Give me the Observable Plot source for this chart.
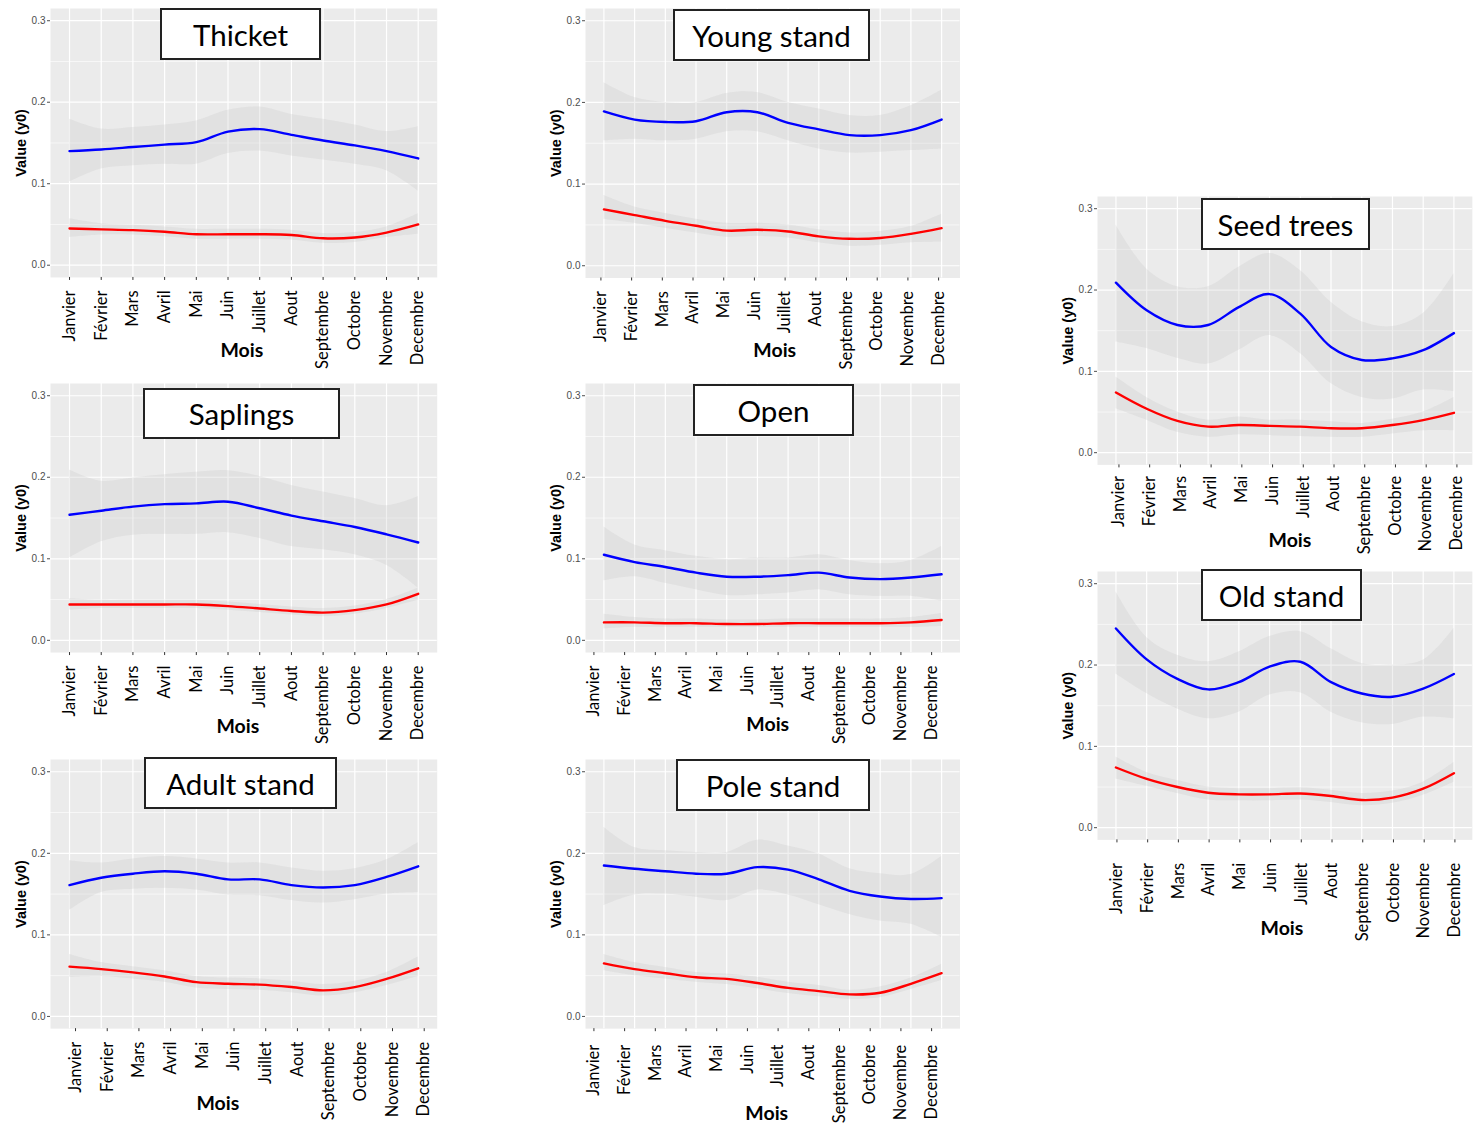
<!DOCTYPE html>
<html>
<head>
<meta charset="utf-8">
<script src="https://cdn.jsdelivr.net/npm/d3@7"></script>
<script src="https://cdn.jsdelivr.net/npm/@observablehq/plot@0.6"></script>
<style>
  html, body { margin: 0; padding: 0; background: #fff; }
  #page { position: relative; width: 1476px; height: 1129px; overflow: hidden; background: #fff; }
  .panel { position: absolute; }
  .title { position: absolute; box-sizing: border-box; border: 2px solid #222; background: #fff;
           display: flex; align-items: center; justify-content: center;
           font-family: Lato, "Open Sans", sans-serif; font-size: 29.5px; color: #000; }
</style>
</head>
<body>
<div id="page"></div>
<script>
// ---------- data ----------
const months = ["Janvier","Février","Mars","Avril","Mai","Juin","Juillet","Aout","Septembre","Octobre","Novembre","Decembre"];
const yTicks = [0, 0.1, 0.2, 0.3];
const yMinor = [0.05, 0.15, 0.25];

const thicketBlue   = [0.140,0.142,0.145,0.148,0.151,0.164,0.167,0.160,0.153,0.147,0.140,0.131];
const thicketBlueLo = [0.102,0.118,0.122,0.124,0.124,0.137,0.140,0.134,0.129,0.124,0.116,0.091];
const thicketBlueHi = [0.179,0.167,0.169,0.172,0.177,0.190,0.194,0.185,0.179,0.172,0.164,0.170];
const thicketRed    = [0.045,0.044,0.043,0.041,0.038,0.038,0.038,0.037,0.033,0.034,0.040,0.050];
const thicketRedLo  = [0.034,0.037,0.037,0.035,0.032,0.032,0.032,0.031,0.027,0.028,0.034,0.038];
const thicketRedHi  = [0.057,0.051,0.049,0.047,0.044,0.044,0.044,0.043,0.039,0.040,0.047,0.063];

const youngBlue   = [0.189,0.179,0.176,0.177,0.188,0.188,0.175,0.167,0.160,0.160,0.166,0.179];
const youngBlueLo = [0.153,0.155,0.153,0.155,0.164,0.164,0.153,0.143,0.138,0.139,0.141,0.143];
const youngBlueHi = [0.224,0.206,0.200,0.200,0.211,0.212,0.200,0.192,0.184,0.184,0.196,0.215];
const youngRed    = [0.069,0.062,0.055,0.049,0.043,0.044,0.042,0.036,0.033,0.034,0.039,0.046];
const youngRedLo  = [0.057,0.052,0.046,0.040,0.035,0.036,0.034,0.028,0.024,0.025,0.028,0.029];
const youngRedHi  = [0.086,0.072,0.064,0.057,0.052,0.052,0.050,0.044,0.040,0.042,0.048,0.063];

const seedBlue   = [0.209,0.175,0.157,0.157,0.179,0.195,0.171,0.130,0.114,0.116,0.126,0.147];
const seedBlueLo = [0.136,0.128,0.116,0.109,0.126,0.144,0.122,0.085,0.068,0.066,0.077,0.075];
const seedBlueHi = [0.280,0.226,0.204,0.204,0.228,0.245,0.224,0.185,0.161,0.155,0.171,0.220];
const seedRed    = [0.074,0.054,0.039,0.032,0.034,0.033,0.032,0.030,0.030,0.034,0.040,0.049];
const seedRedLo  = [0.054,0.040,0.025,0.019,0.022,0.021,0.020,0.019,0.019,0.023,0.027,0.027];
const seedRedHi  = [0.093,0.068,0.050,0.040,0.044,0.040,0.040,0.038,0.036,0.041,0.050,0.068];

const oldBlue   = [0.245,0.207,0.183,0.170,0.179,0.198,0.204,0.179,0.165,0.161,0.171,0.189];
const oldBlueLo = [0.189,0.165,0.146,0.134,0.142,0.163,0.166,0.142,0.129,0.127,0.136,0.134];
const oldBlueHi = [0.290,0.234,0.212,0.204,0.216,0.235,0.241,0.220,0.202,0.200,0.206,0.245];
const oldRed    = [0.074,0.060,0.050,0.043,0.041,0.041,0.042,0.039,0.034,0.037,0.048,0.067];
const oldRedLo  = [0.060,0.051,0.042,0.034,0.033,0.033,0.034,0.031,0.027,0.030,0.040,0.056];
const oldRedHi  = [0.087,0.068,0.058,0.050,0.048,0.048,0.049,0.046,0.042,0.045,0.056,0.080];

const saplingsBlue   = [0.154,0.159,0.164,0.167,0.168,0.170,0.162,0.153,0.146,0.139,0.130,0.120];
const saplingsBlueLo = [0.101,0.121,0.129,0.130,0.130,0.132,0.125,0.115,0.111,0.105,0.092,0.064];
const saplingsBlueHi = [0.209,0.195,0.199,0.203,0.206,0.208,0.201,0.190,0.182,0.174,0.165,0.176];
const saplingsRed    = [0.044,0.044,0.044,0.044,0.044,0.042,0.039,0.036,0.034,0.037,0.044,0.057];
const saplingsRedLo  = [0.037,0.039,0.039,0.039,0.039,0.037,0.034,0.031,0.029,0.032,0.039,0.049];
const saplingsRedHi  = [0.051,0.049,0.049,0.049,0.049,0.047,0.044,0.041,0.039,0.042,0.050,0.064];

const openBlue   = [0.105,0.096,0.090,0.083,0.078,0.078,0.080,0.083,0.077,0.075,0.077,0.081];
const openBlueLo = [0.073,0.078,0.070,0.062,0.055,0.056,0.058,0.062,0.056,0.054,0.054,0.048];
const openBlueHi = [0.139,0.117,0.110,0.103,0.099,0.101,0.101,0.105,0.098,0.094,0.098,0.115];
const openRed    = [0.022,0.022,0.021,0.021,0.020,0.020,0.021,0.021,0.021,0.021,0.022,0.025];
const openRedLo  = [0.014,0.016,0.016,0.016,0.016,0.016,0.016,0.016,0.016,0.016,0.016,0.017];
const openRedHi  = [0.032,0.028,0.026,0.026,0.025,0.025,0.026,0.026,0.026,0.026,0.028,0.033];

const adultBlue   = [0.161,0.170,0.175,0.178,0.175,0.168,0.168,0.161,0.158,0.161,0.171,0.184];
const adultBlueLo = [0.130,0.152,0.156,0.157,0.155,0.149,0.148,0.142,0.139,0.143,0.150,0.152];
const adultBlueHi = [0.191,0.188,0.193,0.196,0.193,0.188,0.188,0.182,0.178,0.181,0.192,0.213];
const adultRed    = [0.061,0.058,0.054,0.049,0.042,0.040,0.039,0.036,0.032,0.036,0.046,0.059];
const adultRedLo  = [0.048,0.049,0.046,0.042,0.035,0.033,0.032,0.029,0.025,0.029,0.038,0.049];
const adultRedHi  = [0.076,0.066,0.061,0.056,0.049,0.047,0.046,0.043,0.039,0.043,0.054,0.073];

const poleBlue   = [0.185,0.181,0.178,0.175,0.175,0.183,0.180,0.168,0.154,0.147,0.144,0.145];
const poleBlueLo = [0.136,0.149,0.150,0.146,0.142,0.155,0.149,0.137,0.125,0.117,0.113,0.097];
const poleBlueHi = [0.232,0.207,0.203,0.201,0.201,0.216,0.209,0.199,0.181,0.175,0.174,0.196];
const poleRed    = [0.065,0.058,0.053,0.048,0.046,0.041,0.035,0.031,0.027,0.029,0.040,0.053];
const poleRedLo  = [0.056,0.050,0.046,0.042,0.039,0.034,0.028,0.024,0.021,0.023,0.033,0.044];
const poleRedHi  = [0.076,0.066,0.060,0.054,0.052,0.048,0.042,0.038,0.032,0.036,0.047,0.064];

// ---------- layout (page pixel anchors) ----------
const panels = [
  {name:"Thicket",     blue:[thicketBlue,thicketBlueLo,thicketBlueHi],   red:[thicketRed,thicketRedLo,thicketRedHi],
   xJan:69,   xDec:417.7, y3:20,    y0:264.5,  pad:10, ldx:0,   moisDx:-2,  moisDy:73, box:[160,8,161,52]},
  {name:"Young stand", blue:[youngBlue,youngBlueLo,youngBlueHi],         red:[youngRed,youngRedLo,youngRedHi],
   xJan:603.3,xDec:941,   y3:20,    y0:265,    pad:10, ldx:-3,  moisDx:2,   moisDy:73, box:[673,9,197,52]},
  {name:"Seed trees",  blue:[seedBlue,seedBlueLo,seedBlueHi],            red:[seedRed,seedRedLo,seedRedHi],
   xJan:1115, xDec:1453,  y3:208.3, y0:452.3,  pad:8,  ldx:3,   moisDx:5,   moisDy:76, box:[1201,198,169,52]},
  {name:"Old stand",   blue:[oldBlue,oldBlueLo,oldBlueHi],               red:[oldRed,oldRedLo,oldRedHi],
   xJan:1115, xDec:1453,  y3:583.3, y0:827.3,  pad:20, ldx:1,   moisDx:-3,  moisDy:89, box:[1201,569,161,52]},
  {name:"Saplings",    blue:[saplingsBlue,saplingsBlueLo,saplingsBlueHi],red:[saplingsRed,saplingsRedLo,saplingsRedHi],
   xJan:69,   xDec:417.7, y3:395.7, y0:640.3,  pad:10, ldx:0,   moisDx:-6,  moisDy:74, box:[143,388,197,51]},
  {name:"Open",        blue:[openBlue,openBlueLo,openBlueHi],            red:[openRed,openRedLo,openRedHi],
   xJan:603.3,xDec:941,   y3:395.7, y0:640.3,  pad:10, ldx:-10, moisDx:-5,  moisDy:72, box:[693,384,161,52]},
  {name:"Adult stand", blue:[adultBlue,adultBlueLo,adultBlueHi],         red:[adultRed,adultRedLo,adultRedHi],
   xJan:69,   xDec:417.7, y3:771,   y0:1015.7, pad:10, ldx:6,   moisDx:-26, moisDy:75, box:[144,757,193,52]},
  {name:"Pole stand",  blue:[poleBlue,poleBlueLo,poleBlueHi],            red:[poleRed,poleRedLo,poleRedHi],
   xJan:603.3,xDec:941,   y3:771,   y0:1015.7, pad:13, ldx:-10, moisDx:-6,  moisDy:85, box:[676,759,194,52]}
];

const page = document.getElementById("page");
const monthIdx = months.map((m, i) => i + 1);
const yDomain = [-0.015, 0.315];
const xDomain = [0.4, 12.6];

function table(arrs) {
  const [m, lo, hi] = arrs;
  return months.map((name, i) => ({x: i + 1, y: m[i], lo: lo[i], hi: hi[i]}));
}

for (const p of panels) {
  const step = (p.xDec - p.xJan) / 11;
  const left = p.xJan - 0.6 * step, right = p.xDec + 0.6 * step;
  const k = (p.y0 - p.y3) / 0.3;
  const top = p.y3 - 0.015 * k, bottom = p.y0 + 0.015 * k;
  const mL = 50, mT = 5, mR = 4, mB = 125;
  const W = mL + (right - left) + mR;
  const H = mT + (bottom - top) + mB;
  const blue = table(p.blue), red = table(p.red);

  const chart = Plot.plot({
    width: W, height: H,
    marginLeft: mL, marginRight: mR, marginTop: mT, marginBottom: mB,
    style: {background: "transparent", overflow: "visible", fontFamily: "Lato"},
    x: {domain: xDomain, axis: null},
    y: {domain: yDomain, axis: null},
    marks: [
      Plot.frame({fill: "#EBEBEB", stroke: null}),
      Plot.ruleY(yMinor, {stroke: "#ffffff", strokeWidth: 0.6}),
      Plot.ruleY(yTicks, {stroke: "#ffffff", strokeWidth: 1.2}),
      Plot.ruleX(monthIdx, {stroke: "#ffffff", strokeWidth: 1.2}),
      Plot.areaY(blue, {x: "x", y1: "lo", y2: "hi", fill: "#c4c4c4", fillOpacity: 0.25, curve: "catmull-rom"}),
      Plot.areaY(red,  {x: "x", y1: "lo", y2: "hi", fill: "#c4c4c4", fillOpacity: 0.25, curve: "catmull-rom"}),
      Plot.line(blue, {x: "x", y: "y", stroke: "#0000FF", strokeWidth: 2.4, curve: "catmull-rom"}),
      Plot.line(red,  {x: "x", y: "y", stroke: "#FF0000", strokeWidth: 2.4, curve: "catmull-rom"}),
      Plot.axisY({ticks: yTicks, tickFormat: d3.format(".1f"), tickSize: 3, tickPadding: 2,
                  fontSize: 10, fontFamily: "Liberation Sans", color: "#4d4d4d", label: null}),
      Plot.axisX({ticks: monthIdx, tickFormat: d => months[d - 1], tickRotate: -90, tickSize: 3,
                  tickPadding: p.pad, fontSize: 16.5, fontFamily: "Lato", color: "#000", stroke: "#333",
                  label: null, dx: p.ldx}),
      Plot.text(["Value (y0)"], {text: d => d, frameAnchor: "left", textAnchor: "middle", lineAnchor: "middle",
                  dx: -29, rotate: -90,
                  fontSize: 14.5, fontWeight: "bold", fontFamily: "Liberation Sans", fill: "#000"}),
      Plot.text(["Mois"], {text: d => d, frameAnchor: "bottom", lineAnchor: "middle", textAnchor: "middle",
                  dx: p.moisDx, dy: p.moisDy,
                  fontSize: 19.5, fontWeight: "bold", fontFamily: "Lato", fill: "#000"})
    ]
  });

  const div = document.createElement("div");
  div.className = "panel";
  div.style.left = (left - mL) + "px";
  div.style.top = (top - mT) + "px";
  div.appendChild(chart);
  page.appendChild(div);

  const t = document.createElement("div");
  t.className = "title";
  const [bx, by, bw, bh] = p.box;
  t.style.left = bx + "px"; t.style.top = by + "px";
  t.style.width = bw + "px"; t.style.height = bh + "px";
  t.textContent = p.name;
  page.appendChild(t);
}
</script>
</body>
</html>
